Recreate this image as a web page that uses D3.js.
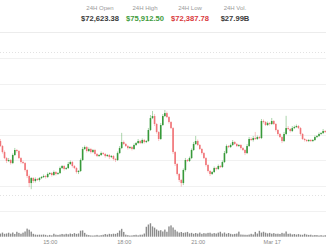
<!DOCTYPE html>
<html>
<head>
<meta charset="utf-8">
<script src="https://cdn.jsdelivr.net/npm/d3@7"></script>
<style>
  html, body { margin: 0; padding: 0; background: #fff; }
  svg { display: block; font-family: "Liberation Sans", Arial, sans-serif; }
</style>
</head>
<body>
<svg id="chart" width="326" height="245"></svg>
<script>
const WIDTH = 326;
const HEIGHT = 245;

// header stats
const statLabels = ['24H Open', '24H High', '24H Low', '24H Vol.'];
const statValues = ['$72,623.38', '$75,912.50', '$72,387.78', '$27.99B'];
const statKinds = ['plain', 'up', 'down', 'plain'];

// 5 minute candles from Mar 16 13:00
const firstOpen = 72686;
const closes = [
  72637, 72578, 72519, 72490, 72500, 72470, 72549, 72598, 72588, 72519,
  72480, 72470, 72402, 72343, 72274, 72323, 72294, 72314, 72304, 72323,
  72333, 72343, 72333, 72363, 72372, 72353, 72382, 72363, 72372, 72421,
  72441, 72412, 72421, 72461, 72480, 72441, 72421, 72382, 72392, 72500,
  72608, 72627, 72588, 72608, 72578, 72598, 72559, 72539, 72549, 72568,
  72559, 72539, 72549, 72529, 72539, 72510, 72500, 72568, 72617, 72676,
  72657, 72637, 72617, 72627, 72608, 72647, 72666, 72686, 72666, 72696,
  72676, 72686, 72794, 72911, 72931, 72853, 72774, 72706, 72843, 72931,
  72960, 72921, 72872, 72813, 72578, 72461, 72363, 72304, 72274, 72402,
  72500, 72490, 72519, 72598, 72657, 72686, 72647, 72608, 72568, 72519,
  72451, 72392, 72363, 72382, 72421, 72412, 72441, 72431, 72480, 72568,
  72637, 72627, 72647, 72676, 72657, 72637, 72647, 72617, 72598, 72568,
  72637, 72706, 72696, 72715, 72706, 72725, 72715, 72882, 72872, 72843,
  72862, 72853, 72882, 72853, 72794, 72755, 72725, 72686, 72755, 72813,
  72804, 72784, 72813, 72823, 72833, 72813, 72755, 72706, 72696, 72686,
  72696, 72686, 72696, 72725, 72735, 72755, 72764, 72784, 72774
];
// wick length above the body and below the body, in USD
const wickUp = [
  20, 10, 15, 10, 20, 10, 15, 20, 10, 10,
  10, 15, 10, 10, 15, 10, 10, 15, 10, 10,
  10, 15, 10, 15, 10, 10, 15, 10, 10, 15,
  10, 10, 10, 20, 15, 10, 10, 10, 10, 15,
  20, 15, 10, 15, 10, 10, 10, 10, 10, 15,
  10, 10, 10, 10, 10, 10, 10, 15, 20, 90,
  15, 10, 10, 10, 10, 15, 10, 20, 10, 15,
  10, 10, 20, 30, 50, 20, 10, 10, 20, 20,
  30, 15, 10, 10, 10, 10, 10, 10, 10, 15,
  20, 10, 15, 15, 20, 50, 15, 10, 10, 10,
  10, 10, 10, 10, 15, 10, 15, 10, 15, 20,
  15, 10, 15, 20, 10, 10, 10, 10, 10, 10,
  20, 20, 15, 20, 60, 15, 10, 20, 15, 10,
  15, 10, 30, 10, 10, 10, 10, 10, 20, 120,
  20, 10, 20, 15, 15, 10, 10, 10, 10, 10,
  10, 10, 10, 15, 10, 15, 10, 20, 10
];
const wickDown = [
  10, 15, 10, 20, 10, 15, 10, 10, 15, 10,
  15, 10, 15, 20, 40, 60, 20, 15, 10, 15,
  10, 10, 15, 10, 10, 15, 10, 15, 10, 10,
  10, 15, 10, 10, 10, 15, 10, 15, 20, 10,
  10, 10, 15, 10, 15, 10, 15, 10, 10, 10,
  10, 15, 10, 20, 10, 15, 20, 10, 10, 10,
  10, 10, 15, 10, 15, 10, 10, 10, 10, 10,
  15, 10, 10, 10, 10, 20, 15, 20, 10, 10,
  10, 10, 15, 10, 20, 20, 15, 20, 35, 20,
  15, 10, 10, 10, 10, 10, 10, 10, 15, 10,
  15, 15, 20, 10, 10, 15, 10, 10, 10, 10,
  10, 10, 10, 10, 10, 10, 10, 15, 10, 20,
  10, 10, 10, 15, 10, 10, 10, 10, 15, 10,
  10, 15, 10, 10, 15, 15, 10, 20, 10, 10,
  10, 15, 10, 10, 10, 10, 15, 10, 15, 10,
  10, 10, 10, 10, 10, 10, 10, 10, 10
];
const volumes = [
  450, 600, 420, 470, 580, 440, 610, 400, 720, 560,
  430, 590, 760, 1180, 1020, 740, 420, 310, 280, 300,
  290, 320, 270, 180, 260, 200, 430, 290, 260, 310,
  400, 330, 420, 350, 460, 390, 520, 410, 470, 880,
  920, 560, 300, 240, 190, 170, 200, 260, 180, 230,
  280, 390, 310, 420, 370, 440, 410, 560, 900, 1150,
  700, 290, 230, 170, 190, 250, 280, 200, 290, 300,
  460, 1450, 1780, 1960, 1500, 1320, 1060, 880, 950, 760,
  1040, 720, 1500, 1650, 1350, 1010, 760, 600, 690, 560,
  620, 700, 480, 560, 430, 540, 450, 600, 420, 520,
  470, 560, 580, 440, 530, 460, 590, 720, 470, 610,
  430, 540, 420, 350, 410, 460, 740, 320, 300, 280,
  270, 310, 420, 330, 700, 460, 860, 600, 720, 580,
  480, 560, 440, 520, 420, 440, 400, 560, 470, 760,
  420, 460, 330, 390, 310, 380, 300, 280, 420, 310,
  260, 290, 200, 250, 240, 180, 230, 170, 220
];

// axis
const timeTicks = ['2024-03-16T15:00', '2024-03-16T18:00', '2024-03-16T21:00', '2024-03-17T00:00'];
const priceTicks = [72000, 72250, 72500, 72750, 73000, 73250, 73500];

const GREEN = '#37993a';
const RED = '#f07377';
const parseTime = d3.timeParse('%Y-%m-%dT%H:%M');
const start = parseTime('2024-03-16T13:00');

const candles = closes.map((c, i) => {
  const o = i === 0 ? firstOpen : closes[i - 1];
  return {
    t: d3.timeMinute.offset(start, 5 * i),
    o: o,
    c: c,
    h: Math.max(o, c) + wickUp[i],
    l: Math.min(o, c) - wickDown[i],
    v: volumes[i],
  };
});

const svg = d3.select('#chart');

// header
const header = svg.append('g');
const statX = [100, 145, 190, 235];
header.selectAll('text.label')
    .data(statLabels)
    .enter()
    .append('text')
    .attr('class', 'label')
    .attr('x', (d, i) => statX[i])
    .attr('y', 10)
    .attr('text-anchor', 'middle')
    .attr('font-size', 6)
    .attr('fill', '#9a9a9a')
    .text((d) => d);
header.selectAll('text.value')
    .data(statValues)
    .enter()
    .append('text')
    .attr('class', 'value')
    .attr('x', (d, i) => statX[i])
    .attr('y', 21)
    .attr('text-anchor', 'middle')
    .attr('font-size', 7.6)
    .attr('font-weight', 'bold')
    .attr('fill', (d, i) => statKinds[i] === 'up' ? '#3f9c40' :
                            statKinds[i] === 'down' ? '#d9393c' : '#3a3a3a')
    .text((d) => d);
svg.append('line')
    .attr('x1', 0).attr('x2', WIDTH)
    .attr('y1', 32.5).attr('y2', 32.5)
    .attr('stroke', '#ececec');

// scales
const xScale = d3.scaleTime()
    .domain([d3.timeMinute.offset(start, -1), d3.timeMinute.offset(start, 792)])
    .range([0, WIDTH]);
const yScale = d3.scaleLinear().domain([72000, 73500]).range([211, 58]);
const vScale = d3.scaleLinear().domain([0, 2000]).range([236.7, 223]);
const bodyWidth = 1.6;

// grid
svg.append('g')
    .selectAll('line')
    .data(priceTicks)
    .enter()
    .append('line')
    .attr('x1', 0).attr('x2', WIDTH)
    .attr('y1', (d) => Math.round(yScale(d)) + 0.5)
    .attr('y2', (d) => Math.round(yScale(d)) + 0.5)
    .attr('stroke', '#f1f1f1');
[52.5, 195.5].forEach((y) => {
  svg.append('line')
      .attr('x1', 0).attr('x2', WIDTH)
      .attr('y1', y).attr('y2', y)
      .attr('stroke', '#e2e2e2')
      .attr('stroke-dasharray', '1,2');
});

// volume
svg.append('g')
    .selectAll('rect')
    .data(candles)
    .enter()
    .append('rect')
    .attr('x', (d) => xScale(d.t) - 0.7)
    .attr('width', 1.4)
    .attr('y', (d) => vScale(d.v))
    .attr('height', (d) => vScale(0) - vScale(d.v))
    .attr('fill', '#8c8c8c');

// candles
const candle = svg.append('g')
    .selectAll('g')
    .data(candles)
    .enter()
    .append('g')
    .attr('fill', (d) => d.c >= d.o ? GREEN : RED)
    .attr('stroke', (d) => d.c >= d.o ? GREEN : RED);
candle.append('line')
    .attr('x1', (d) => xScale(d.t))
    .attr('x2', (d) => xScale(d.t))
    .attr('y1', (d) => yScale(d.h))
    .attr('y2', (d) => yScale(d.l))
    .attr('stroke-width', 0.6)
    .attr('stroke-opacity', 0.7);
candle.append('rect')
    .attr('stroke', 'none')
    .attr('x', (d) => xScale(d.t) - bodyWidth / 2)
    .attr('width', bodyWidth)
    .attr('y', (d) => yScale(Math.max(d.o, d.c)))
    .attr('height', (d) => Math.max(0.8, Math.abs(yScale(d.o) - yScale(d.c))));

// time axis
const xAxis = d3.axisBottom(xScale)
    .tickValues(timeTicks.map(parseTime))
    .tickSize(0)
    .tickFormat((d) => d.getHours() === 0 ? d3.timeFormat('%b %-d')(d) : d3.timeFormat('%H:%M')(d));
const axis = svg.append('g')
    .attr('transform', 'translate(0,237)')
    .call(xAxis);
axis.select('.domain').remove();
axis.selectAll('text')
    .attr('dy', 0)
    .attr('y', 6.5)
    .attr('font-size', 5.6)
    .attr('font-family', '"Liberation Sans", Arial, sans-serif')
    .attr('fill', '#8a8a8a');
</script>
</body>
</html>
